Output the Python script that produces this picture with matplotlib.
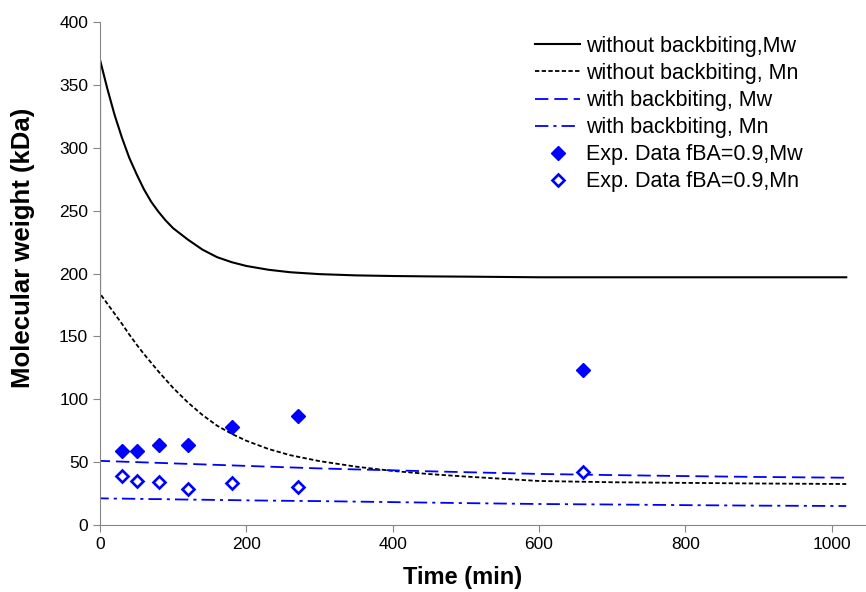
import numpy as np
import matplotlib.pyplot as plt

plt.rcParams['font.family'] = ['Liberation Sans', 'DejaVu Sans']

# model curves, time in min, Mw/Mn in kDa
t_model = [0, 0, 10, 20, 30, 40, 50, 60, 70, 80, 90, 100, 120, 140, 160, 180, 200,
           230, 260, 300, 350, 400, 450, 500, 600, 700, 800, 900, 1020]
mw_no_bb = [180, 370, 347, 326, 308, 292, 279, 267, 257, 249, 242, 236, 227, 219, 213, 209, 206,
            203, 201, 199.5, 198.5, 198, 197.7, 197.5, 197, 197, 197, 197, 197]
mn_no_bb = [74, 184, 176, 168, 160, 151.5, 143.5, 136, 129, 122, 115.5, 109, 97.5, 87.5, 79, 72.5, 67,
            60.5, 55.5, 50.8, 46.4, 43, 40.5, 38.5, 35, 34, 33.5, 33, 32.6]
mw_bb = [33, 51, 50.8, 50.6, 50.4, 50.2, 50, 49.8, 49.6, 49.4, 49.2, 49, 48.6, 48.2, 47.8, 47.4, 47,
         46.4, 45.8, 45, 44.2, 43.5, 42.7, 42, 40.6, 39.7, 38.9, 38.2, 37.6]
mn_bb = [17.5, 21.2, 21.1, 21.0, 21.0, 20.9, 20.8, 20.7, 20.6, 20.6, 20.5, 20.4, 20.2, 20.1, 19.9, 19.8, 19.6,
         19.4, 19.2, 19, 18.6, 18.2, 17.8, 17.4, 16.7, 16.3, 15.8, 15.4, 15.1]

# experimental data, fBA = 0.9
t_exp = [30, 50, 80, 120, 180, 270, 660]
mw_exp = [59, 59, 64, 64, 78, 87, 123]
mn_exp = [39, 35, 34, 28.5, 33.5, 30.5, 42]

fig = plt.figure(figsize=(8.66, 5.92), dpi=100)
ax = fig.add_axes([100/866, 67/592, 766/866, 503/592])

ax.plot(t_model, mw_no_bb, color='black', lw=1.5, label='without backbiting,Mw')
ax.plot(t_model, mn_no_bb, color='black', lw=1.3, dashes=(2.4, 1.3), label='without backbiting, Mn')
ax.plot(t_model, mw_bb, color='blue', lw=1.3, dashes=(7.4, 3.3), label='with backbiting, Mw')
ax.plot(t_model, mn_bb, color='blue', lw=1.3, dashes=(7.4, 2.8, 1.7, 2.8), label='with backbiting, Mn')
ax.plot(t_exp, mw_exp, 'D', color='blue', ms=7, ls='none', label='Exp. Data fBA=0.9,Mw')
ax.plot(t_exp, mn_exp, 'D', mfc='white', mec='blue', mew=1.9, ms=6.3, ls='none',
        label='Exp. Data fBA=0.9,Mn')

ax.set_xlim(0, 1047)
ax.set_ylim(0, 400)
ax.set_xticks(np.arange(0, 1001, 200))
ax.set_yticks(np.arange(0, 401, 50))
for s in ['top', 'right']:
    ax.spines[s].set_visible(False)
for s in ['left', 'bottom']:
    ax.spines[s].set_color('#868686')
ax.tick_params(direction='out', length=5, color='#868686', labelsize=12.5)

ax.set_xlabel('Time (min)', fontsize=17, fontweight='bold')
ax.xaxis.set_label_coords((463-100)/766, -(566-525)/503)
ax.set_ylabel('Molecular weight (kDa)', fontsize=18.5, fontweight='bold')
ax.yaxis.set_label_coords(-(100-35)/766, (525-248)/503)

ax.legend(loc='upper left', bbox_to_anchor=(535/866, (592-36)/592), bbox_transform=fig.transFigure,
          frameon=False, fontsize=15.5, handlelength=2.1, handletextpad=0.25, labelspacing=0.28,
          borderpad=0, borderaxespad=0)

plt.savefig('out.png', dpi=100)
